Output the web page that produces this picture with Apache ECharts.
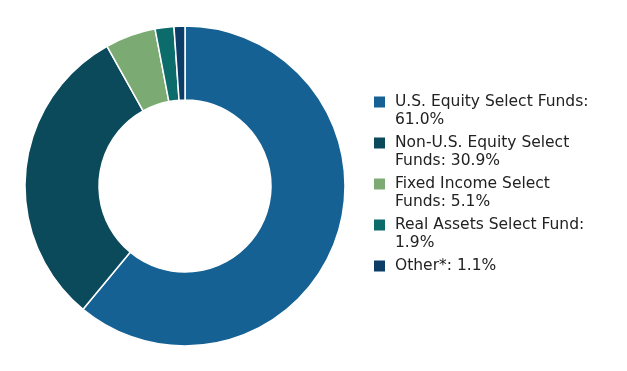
<!DOCTYPE html>
<html><head><meta charset="utf-8">
<script src="https://cdn.jsdelivr.net/npm/echarts@6/dist/echarts.min.js"></script>
<style>html,body{margin:0;padding:0;background:#fff}#c{width:627px;height:371px}</style>
</head><body><div id="c"></div>
<script>
const names = ["U.S. Equity Select Funds:", "Non-U.S. Equity Select Funds:", "Fixed Income Select Funds:", "Real Assets Select Fund:", "Other*:"];
const legendLabels = ["U.S. Equity Select Funds:\n61.0%", "Non-U.S. Equity Select\nFunds: 30.9%", "Fixed Income Select\nFunds: 5.1%", "Real Assets Select Fund:\n1.9%", "Other*: 1.1%\n "];
const values = [61.0, 30.9, 5.1, 1.9, 1.1];
const colors = ["#156194", "#0B4A5B", "#7BAA72", "#0C6B6B", "#0B3D66"];

const chart = echarts.init(document.getElementById('c'));
chart.setOption({
  animation: false,
  color: colors,
  legend: {
    orient: 'vertical',
    left: 372, top: 75,
    padding: 0,
    itemWidth: 13, itemHeight: 13,
    itemGap: -13,
    icon: 'rect',
    data: names,
    formatter: function(n){ return '\n' + legendLabels[names.indexOf(n)]; },
    textStyle: { fontFamily: 'DejaVu Sans', fontSize: 15.5, color: '#222', lineHeight: 18, padding: [0, 0, 0, 4] }
  },
  series: [{
    type: 'pie',
    center: [185, 186],
    radius: [86, 160],
    startAngle: 90,
    clockwise: true,
    label: { show: false },
    labelLine: { show: false },
    itemStyle: { borderColor: '#fff', borderWidth: 1.5 },
    data: names.map((n, i) => ({ name: n, value: values[i] }))
  }]
});
</script></body></html>
